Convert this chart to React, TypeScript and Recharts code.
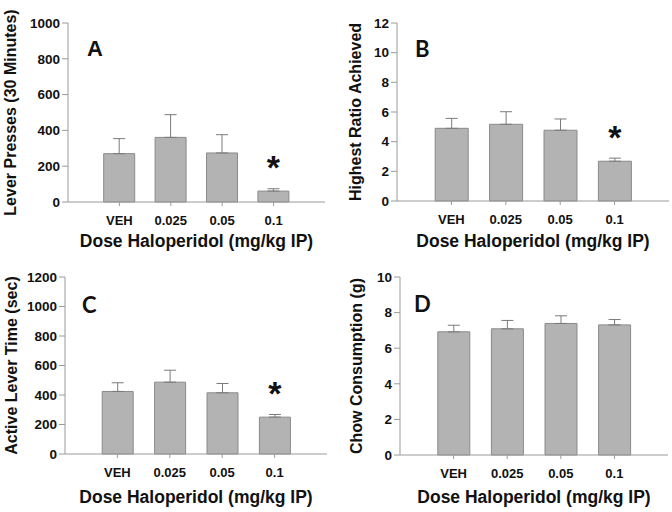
import { Bar, BarChart, ErrorBar, LabelList, XAxis, YAxis } from 'recharts'

const doses = ['VEH', '0.025', '0.05', '0.1']

const leverPresses = [270, 361, 274, 61]
const leverPressesSem = [84, 127, 102, 13]
const highestRatio = [4.9, 5.17, 4.77, 2.68]
const highestRatioSem = [0.67, 0.85, 0.76, 0.21]
const activeLeverTime = [424, 487, 415, 250]
const activeLeverTimeSem = [59, 81, 63, 18]
const chowConsumption = [6.92, 7.09, 7.39, 7.31]
const chowConsumptionSem = [0.37, 0.47, 0.43, 0.3]

const starsABC = [false, false, false, true]
const starsD = [false, false, false, false]

const ticksA = [0, 200, 400, 600, 800, 1000]
const ticksB = [0, 2, 4, 6, 8, 10, 12]
const ticksC = [0, 200, 400, 600, 800, 1000, 1200]
const ticksD = [0, 2, 4, 6, 8, 10]

const xTitle = 'Dose Haloperidol (mg/kg IP)'

const ARIAL = "Arial, 'Liberation Sans', 'DejaVu Sans', sans-serif"
const CALIBRI = "Lato, 'Open Sans', sans-serif"
const FRAME = '#9a9a9a'
const BAR_FILL = '#b3b3b3'
const BAR_STROKE = '#8a8a8a'
const INK = '#111'

type PanelProps = {
  letter: string
  letterFont: string
  yLabel: string
  values: number[]
  sem: number[]
  stars: boolean[]
  ticks: number[]
  left: number
  right: number
  top: number
  bottom: number
  cellX: number
  cellY: number
  letterPos: [number, number]
  yLabelX: number
}

const W = 336
const H = 256

function Panel(p: PanelProps) {
  const data = doses.map((d, i) => ({
    dose: d,
    value: p.values[i],
    err: [0, p.sem[i]],
    star: p.stars[i],
  }))
  const plotW = p.right - p.left
  const pad = plotW / 10
  const barSize = Math.round((plotW / 5) * 0.6)
  const max = p.ticks[p.ticks.length - 1]
  const midY = (p.top + p.bottom) / 2
  const midX = (p.left + p.right) / 2

  return (
    <div style={{ position: 'absolute', left: p.cellX, top: p.cellY, width: W, height: H }}>
      <BarChart
        width={W}
        height={H}
        data={data}
        margin={{ top: p.top, right: W - p.right, bottom: 0, left: 0 }}
      >
        <XAxis
          dataKey='dose'
          height={H - p.bottom}
          padding={{ left: pad, right: pad }}
          stroke={FRAME}
          tickSize={4}
          tickMargin={10}
          tick={{ fill: INK, fontSize: 13, fontWeight: 700, fontFamily: ARIAL }}
          interval={0}
        />
        <XAxis xAxisId='top' dataKey='dose' orientation='top' height={0} stroke={FRAME} tick={false} tickLine={false} />
        <YAxis
          width={p.left}
          domain={[0, max]}
          ticks={p.ticks}
          stroke={FRAME}
          tickSize={6}
          tickMargin={2}
          tick={{ fill: INK, fontSize: 13.5, fontWeight: 700, fontFamily: ARIAL }}
          interval={0}
        />
        <YAxis yAxisId='right' orientation='right' width={0} domain={[0, max]} stroke={FRAME} tick={false} tickLine={false} />
        <Bar
          dataKey='value'
          fill={BAR_FILL}
          stroke={BAR_STROKE}
          strokeWidth={1}
          barSize={barSize}
          isAnimationActive={false}
        >
          <ErrorBar dataKey='err' width={6} stroke='#7a7a7a' strokeWidth={1} direction='y' />
          <LabelList
            dataKey='star'
            content={(lp: any) => {
              if (!lp.value) return null
              return (
                <text
                  x={lp.x + lp.width / 2}
                  y={lp.y - 12}
                  textAnchor='middle'
                  fontSize={34}
                  fontWeight={700}
                  fill={INK}
                  fontFamily={ARIAL}
                >
                  *
                </text>
              )
            }}
          />
        </Bar>
        <text
          x={p.letterPos[0]}
          y={p.letterPos[1]}
          fontSize={22}
          fontWeight={700}
          fill={INK}
          fontFamily={p.letterFont}
        >
          {p.letter}
        </text>
        <text
          x={p.yLabelX}
          y={midY}
          transform={`rotate(-90, ${p.yLabelX}, ${midY})`}
          textAnchor='middle'
          fontSize={16}
          fontWeight={700}
          fill={INK}
          fontFamily={ARIAL}
        >
          {p.yLabel}
        </text>
        <text
          x={midX}
          y={247}
          textAnchor='middle'
          fontSize={17.5}
          fontWeight={700}
          fill={INK}
          fontFamily={ARIAL}
        >
          {xTitle}
        </text>
      </BarChart>
    </div>
  )
}

export default function App() {
  return (
    <div
      style={{
        position: 'absolute',
        left: 0,
        top: 0,
        width: 672,
        height: 512,
        background: '#fff',
        fontFamily: ARIAL,
      }}
    >
      <Panel
        letter='A'
        letterFont={ARIAL}
        yLabel='Lever Presses (30 Minutes)'
        values={leverPresses}
        sem={leverPressesSem}
        stars={starsABC}
        ticks={ticksA}
        left={68}
        right={325}
        top={23}
        bottom={202}
        cellX={0}
        cellY={0}
        letterPos={[87, 56]}
        yLabelX={16}
      />
      <Panel
        letter='B'
        letterFont={CALIBRI}
        yLabel='Highest Ratio Achieved'
        values={highestRatio}
        sem={highestRatioSem}
        stars={starsABC}
        ticks={ticksB}
        left={61}
        right={333}
        top={23}
        bottom={201}
        cellX={336}
        cellY={0}
        letterPos={[79, 57]}
        yLabelX={25}
      />
      <Panel
        letter='C'
        letterFont={CALIBRI}
        yLabel='Active Lever Time (sec)'
        values={activeLeverTime}
        sem={activeLeverTimeSem}
        stars={starsABC}
        ticks={ticksC}
        left={65}
        right={327}
        top={21}
        bottom={198}
        cellX={0}
        cellY={256}
        letterPos={[82, 57]}
        yLabelX={17}
      />
      <Panel
        letter='D'
        letterFont={CALIBRI}
        yLabel='Chow Consumption (g)'
        values={chowConsumption}
        sem={chowConsumptionSem}
        stars={starsD}
        ticks={ticksD}
        left={64}
        right={332}
        top={21}
        bottom={199}
        cellX={336}
        cellY={256}
        letterPos={[78, 56]}
        yLabelX={26}
      />
    </div>
  )
}
